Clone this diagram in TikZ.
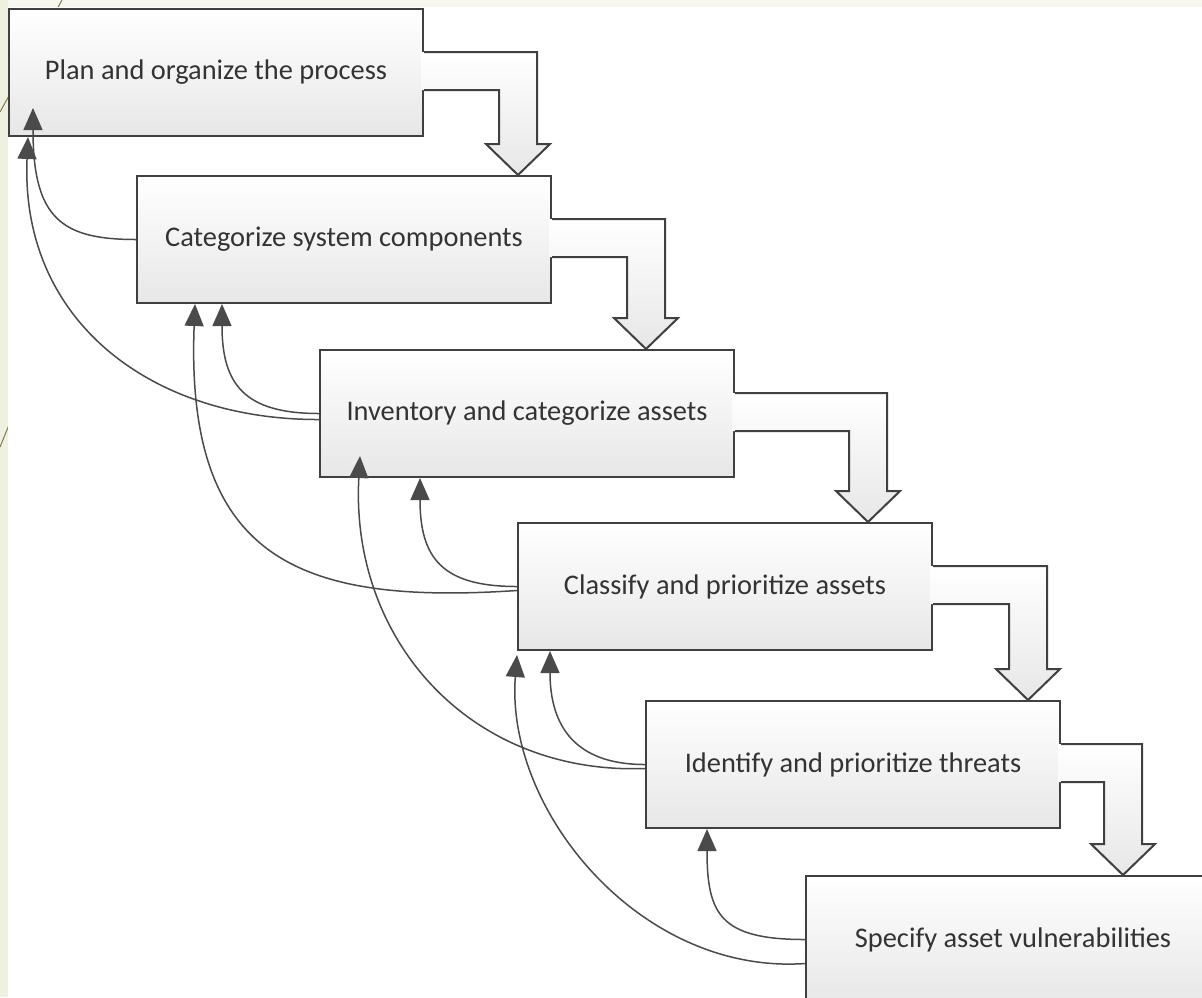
\documentclass[tikz,border=0pt]{standalone}
\usepackage{fontspec}
\setmainfont{Carlito}
\usetikzlibrary{arrows.meta, calc}

\definecolor{boxline}{HTML}{404040}
\definecolor{boxshade}{HTML}{E7E7E7}
\definecolor{textgray}{HTML}{333333}
\definecolor{curvegray}{HTML}{4A4A4A}
\definecolor{stripcream}{HTML}{F7F7EF}
\definecolor{stripgreen}{HTML}{EEF1E0}
\definecolor{stripline}{HTML}{857A55}

\tikzset{
  stepbox/.style={draw=boxline, line width=1pt, top color=white, bottom color=boxshade,
    anchor=north west, minimum width=207pt, minimum height=63.5pt, inner sep=0pt,
    text=textgray, font=\fontsize{14.2}{17}\selectfont},
  arrowline/.style={draw=boxline, line width=1pt, line join=miter},
  backarrow/.style={draw=curvegray, line width=0.75pt, -{Triangle[length=11pt,width=9.5pt]}}
}

% block arrow: source box, target box, x of the tip
\newcommand{\elbow}[3]{%
  \shade[top color=white, bottom color=boxshade]
    let \p1=(#1.north east), \p2=(#2.north), \n1={#3*0.5pt} in
    (\x1-1.5pt,\y1-22pt) -- (\n1+9.5pt,\y1-22pt) -- (\n1+9.5pt,\y2+15.5pt) -- (\n1+16pt,\y2+15.5pt)
    -- (\n1,\y2) -- (\n1-16pt,\y2+15.5pt) -- (\n1-9.5pt,\y2+15.5pt) -- (\n1-9.5pt,\y1-41pt)
    -- (\x1-1.5pt,\y1-41pt) -- cycle;
  \draw[arrowline]
    let \p1=(#1.north east), \p2=(#2.north), \n1={#3*0.5pt} in
    (\x1,\y1-22pt) -- (\n1+9.5pt,\y1-22pt) -- (\n1+9.5pt,\y2+15.5pt) -- (\n1+16pt,\y2+15.5pt)
    -- (\n1,\y2) -- (\n1-16pt,\y2+15.5pt) -- (\n1-9.5pt,\y2+15.5pt) -- (\n1-9.5pt,\y1-41pt)
    -- (\x1,\y1-41pt);
}

\begin{document}
\begin{tikzpicture}[x=0.5pt,y=-0.5pt]
\useasboundingbox (0,0) rectangle (1202,997);
% slide background
\fill[stripcream] (0,0) rectangle (1202,997);
\fill[stripgreen] (0,0) rectangle (8,997);
\draw[stripline, line width=0.5pt] (62,0) -- (0,112);
\draw[stripline, line width=0.5pt] (9,425) -- (0,447);
\fill[white] (8,7) rectangle (1202,997);

% steps
\node[stepbox] (plan) at (8,8) {Plan and organize the process};
\node[stepbox] (categ) at (136,175) {Categorize system components};
\node[stepbox] (invent) at (319,349) {Inventory and categorize assets};
\node[stepbox] (classify) at (517,522) {Classify and prioritize assets};
\node[stepbox] (threats) at (645,700) {Identify and prioritize threats};
\node[stepbox] (vuln) at (805,875) {Specify asset vulnerabilities};

% forward arrows
\elbow{plan}{categ}{518}
\elbow{categ}{invent}{646}
\elbow{invent}{classify}{868}
\elbow{classify}{threats}{1028}
\elbow{threats}{vuln}{1123}

% feedback arrows
\draw[backarrow] (categ.west) .. controls +(-75,0) and +(0,110) .. ($(plan.south west)+(25,-29)$);
\draw[backarrow] ($(invent.west)+(0,6)$) .. controls (150,420) and (20,320) .. ($(plan.south west)+(20,0)$);
\draw[backarrow] (invent.west) .. controls +(-75,0) and +(0,80) .. ($(categ.south west)+(86,0)$);
\draw[backarrow] ($(classify.west)+(0,4)$) .. controls (300,605) and (185,560) .. ($(categ.south west)+(59,0)$);
\draw[backarrow] (classify.west) .. controls +(-75,0) and +(0,80) .. ($(invent.south west)+(101,0)$);
\draw[backarrow] ($(threats.west)+(0,4)$) .. controls (470,775) and (350,640) .. ($(invent.south west)+(41,-22)$);
\draw[backarrow] (threats.west) .. controls +(-70,0) and +(0,75) .. ($(classify.south west)+(33,0)$);
\draw[backarrow] ($(vuln.west)+(0,24)$) .. controls (640,975) and (505,810) .. ($(classify.south west)+(0,4)$);
\draw[backarrow] (vuln.west) .. controls +(-85,0) and +(0,85) .. ($(threats.south west)+(62,0)$);
\end{tikzpicture}
\end{document}
